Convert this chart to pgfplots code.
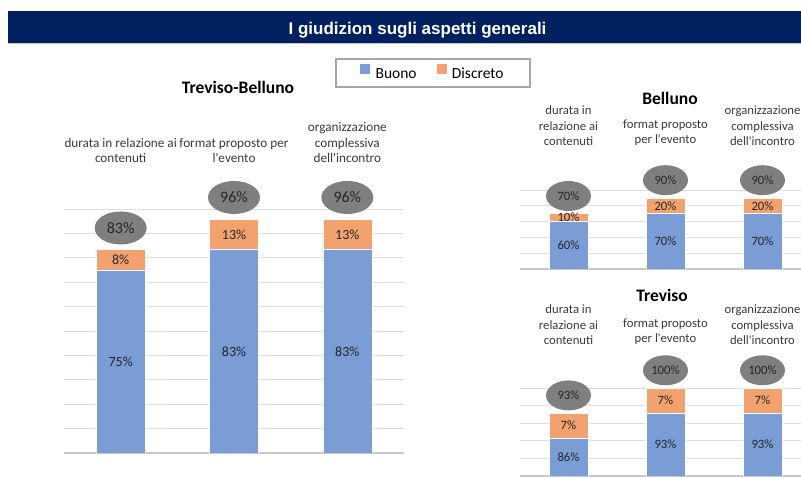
\documentclass[border=0pt]{standalone}
\usepackage{fontspec}
\setmainfont{Carlito}[Ligatures=TeXOff]
\newfontfamily\arialfont{Liberation Sans}
\usepackage{pgfplots}
\pgfplotsset{compat=1.18}
\usetikzlibrary{shapes.geometric}
\definecolor{navy}{HTML}{002060}
\definecolor{buono}{HTML}{7A9DD6}
\definecolor{discreto}{HTML}{F2A26E}
\definecolor{ellc}{HTML}{7F7F7F}
\definecolor{gridc}{HTML}{DEDEDE}
\definecolor{basec}{HTML}{C8C8C8}
\definecolor{labc}{HTML}{3A3A3A}
\definecolor{datc}{HTML}{262626}
\definecolor{legc}{HTML}{A6A6A6}
\newcommand\fs[2]{\fontsize{#1}{#2}\selectfont}
\pgfplotsset{
  barpanel/.style={scale only axis, xmin=-0.5, xmax=2.5, ybar stacked,
    axis line style={draw=none}, tick style={draw=none}, major tick length=0pt,
    ymajorgrids, major grid style={color=gridc, line width=0.9pt},
    yticklabels={}, xtick={0,1,2}, xticklabel pos=upper,
    xticklabel style={anchor=south, inner sep=0pt, align=center, text=labc, font=\fs{12.7}{15.5}},
    extra y tick labels={},
    extra y tick style={grid=major, major grid style={color=basec, line width=1.1pt}},
    every axis plot/.append style={draw=white, line width=0.5pt}},
  labpanel/.style={scale only axis, xmin=-0.5, xmax=2.5, hide axis, clip=false},
  inlabL/.style={draw=none, mark=none, nodes near coords, point meta=explicit symbolic,
    every node near coord/.append style={anchor=center, text=datc, font=\fs{14}{16}}},
  inlabR/.style={draw=none, mark=none, nodes near coords, point meta=explicit symbolic,
    every node near coord/.append style={anchor=center, text=datc, font=\fs{12.7}{15}}},
  ellL/.style={draw=none, mark=none, nodes near coords, point meta=explicit symbolic,
    every node near coord/.append style={ellipse, fill=ellc, minimum width=52pt, minimum height=33pt,
      inner sep=0pt, anchor=south, yshift=5pt, text=datc, font=\fs{16}{18}}},
  ellR/.style={draw=none, mark=none, nodes near coords, point meta=explicit symbolic,
    every node near coord/.append style={ellipse, fill=ellc, minimum width=45pt, minimum height=30pt,
      inner sep=0pt, anchor=south, yshift=2.5pt, text=datc, font=\fs{12.7}{15}}},
}
\begin{document}
\begin{tikzpicture}
\path[use as bounding box] (0,0) rectangle (801pt,-478pt);
% banner
\fill[navy] (8pt,-10.7pt) rectangle (801pt,-42.7pt);
\draw[color=gray!45, line width=0.8pt] (8pt,-43.2pt) -- (801pt,-43.2pt);
\node[anchor=base, text=white, inner sep=0pt, font=\arialfont\bfseries\fs{17}{20}] at (417.5pt,-34.7pt) {I giudizion sugli aspetti generali};
% titles
\node[anchor=base, inner sep=0pt, font=\bfseries\fs{17.5}{20}] at (238pt,-93.3pt) {Treviso-Belluno};
\node[anchor=base, inner sep=0pt, font=\bfseries\fs{17.5}{20}] at (670pt,-105pt) {Belluno};
\node[anchor=base, inner sep=0pt, font=\bfseries\fs{17.5}{20}] at (662pt,-301.7pt) {Treviso};

% ---------------- Treviso-Belluno ----------------
\begin{axis}[barpanel, at={(64pt,-453pt)}, anchor=south west, width=340pt, height=244pt,
  ymin=0, ymax=1, bar width=49pt,
  ytick={0.1,0.2,0.3,0.4,0.5,0.6,0.7,0.8,0.9,1}, extra y ticks={0},
  xticklabels={{durata in relazione ai\\contenuti},{format proposto per\\l'evento},{organizzazione\\complessiva\\dell'incontro}},
  xticklabel style={yshift=46pt, font=\fs{13.2}{15.5}},
  legend columns=2,
  legend style={at={(axis description cs:1.0853,1.557)}, anchor=center, draw=legc, line width=2pt,
    font=\fs{15.5}{18}, inner xsep=24pt, inner ysep=5pt,
    /tikz/every even column/.append style={column sep=18pt}},
  legend image code/.code={\fill[#1, draw=none] (0pt,0pt) rectangle (10pt,10pt); \path (13pt,0pt);},
]
\addplot[fill=buono] coordinates {(0,0.75) (1,0.8333) (2,0.8333)};
\addlegendentry{Buono}
\addplot[fill=discreto] coordinates {(0,0.0833) (1,0.125) (2,0.125)};
\addlegendentry{Discreto}
\end{axis}
\begin{axis}[labpanel, at={(64pt,-453pt)}, anchor=south west, width=340pt, height=244pt, ymin=0, ymax=1]
\addplot[inlabL] coordinates {(0,0.375)[75\%] (1,0.4167)[83\%] (2,0.4167)[83\%]};
\addplot[inlabL] coordinates {(0,0.7917)[8\%] (1,0.8958)[13\%] (2,0.8958)[13\%]};
\addplot[ellL] coordinates {(0,0.8333)[83\%] (1,0.9583)[96\%] (2,0.9583)[96\%]};
\end{axis}

% ---------------- Belluno ----------------
\begin{axis}[barpanel, at={(520pt,-269pt)}, anchor=south west, width=291pt, height=79pt,
  ymin=0, ymax=1, bar width=39pt,
  ytick={0.2,0.4,0.6,0.8,1}, extra y ticks={0},
  xticklabels={{durata in\\relazione ai\\contenuti},{format proposto\\per l'evento},{organizzazione\\complessiva\\dell'incontro}},
  xticklabel style={yshift=44pt},
]
\addplot[fill=buono] coordinates {(0,0.6) (1,0.7) (2,0.7)};
\addplot[fill=discreto] coordinates {(0,0.1) (1,0.2) (2,0.2)};
\end{axis}
\begin{axis}[labpanel, at={(520pt,-269pt)}, anchor=south west, width=291pt, height=79pt, ymin=0, ymax=1]
\addplot[inlabR] coordinates {(0,0.3)[60\%] (1,0.35)[70\%] (2,0.35)[70\%]};
\addplot[inlabR] coordinates {(0,0.65)[10\%] (1,0.8)[20\%] (2,0.8)[20\%]};
\addplot[ellR] coordinates {(0,0.7)[70\%] (1,0.9)[90\%] (2,0.9)[90\%]};
\end{axis}

% ---------------- Treviso ----------------
\begin{axis}[barpanel, at={(520pt,-476pt)}, anchor=south west, width=291pt, height=88pt,
  ymin=0.75, ymax=1, bar width=39pt,
  ytick={0.8,0.85,0.9,0.95,1}, extra y ticks={0.75},
  xticklabels={{durata in\\relazione ai\\contenuti},{format proposto\\per l'evento},{organizzazione\\complessiva\\dell'incontro}},
  xticklabel style={yshift=43pt},
]
\addplot[fill=buono] coordinates {(0,0.8571) (1,0.9286) (2,0.9286)};
\addplot[fill=discreto] coordinates {(0,0.0714) (1,0.0714) (2,0.0714)};
\end{axis}
\begin{axis}[labpanel, at={(520pt,-476pt)}, anchor=south west, width=291pt, height=88pt, ymin=0.75, ymax=1]
\addplot[inlabR] coordinates {(0,0.8036)[86\%] (1,0.8393)[93\%] (2,0.8393)[93\%]};
\addplot[inlabR] coordinates {(0,0.8929)[7\%] (1,0.9643)[7\%] (2,0.9643)[7\%]};
\addplot[ellR] coordinates {(0,0.9286)[93\%] (1,1)[100\%] (2,1)[100\%]};
\end{axis}
\end{tikzpicture}
\end{document}
